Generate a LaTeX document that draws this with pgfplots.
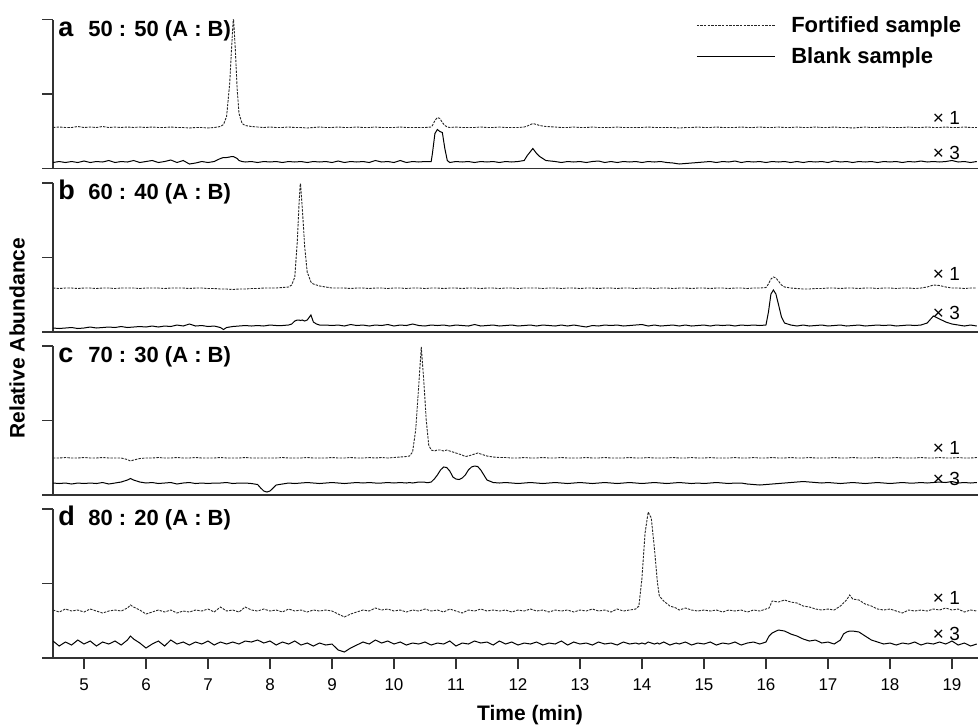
\documentclass[border=0pt]{standalone}
\usepackage{fontspec}
\setmainfont{Liberation Sans}
\usepackage{pgfplots}
\usepackage{pgfplotstable}
\pgfplotsset{compat=1.18}

% heights in px above the panel bottom (panel = 149 px tall)
\pgfplotstableread{
t f b
4.5 41 6
4.6 41.5 7
4.7 41 6
4.8 41 7
4.9 42 6
5.0 41 7.5
5.1 41.5 6
5.2 41 7
5.3 42 6.5
5.4 41 8
5.5 41.5 6
5.6 41 7
5.7 41.5 6.5
5.8 41 8
5.9 41.5 6
6.0 41 7
6.1 41.5 8
6.2 41 6
6.3 41 7
6.4 41.5 8.5
6.5 41 6
6.6 41 8
6.7 40.5 4.5
6.8 41 5.5
6.9 41 7
7.0 40.5 6
7.1 41 7
7.2 42 10
7.25 44 11
7.3 52 11
7.35 85 11.5
7.38 120 12
7.41 152 12
7.44 120 11
7.47 80 10
7.5 55 8
7.55 45 7
7.6 43 6.5
7.7 42 7
7.8 41.5 6
7.9 41 7
8.0 41.5 6.5
8.1 41 7
8.2 41 6
8.3 41.5 7
8.4 41 6.5
8.5 41 7
8.6 40.5 6
8.7 41 7
8.8 41.5 6.5
8.9 41 7
9.0 41 6
9.1 41.5 7.5
9.2 41 6
9.3 41 7
9.4 41.5 6.5
9.5 41 7
9.6 41 6
9.7 41.5 8
9.8 41 6.5
9.9 41 7
10.0 41 6
10.1 41.5 8
10.2 41 6
10.3 41 7
10.4 41 6.5
10.5 41 7
10.6 41.5 7
10.62 43 15
10.66 48 35
10.7 51 39
10.74 50 37
10.78 46 36
10.82 43 20
10.86 41.5 8
10.9 41 6
11.0 41.5 7
11.1 41 6.5
11.2 41 7
11.3 41 6
11.4 41.5 7
11.5 41 6.5
11.6 41 7
11.7 41.5 6
11.8 41 7
11.9 41 6.5
12.0 41 7
12.1 41.5 8
12.15 42.5 13
12.24 45 20
12.3 44 15
12.35 43 12
12.45 42 8
12.6 41.5 7
12.7 41 6
12.8 41 7
12.9 41.5 6.5
13.0 41 7
13.1 41 6
13.2 41.5 7
13.3 41 7.5
13.4 41 6
13.5 41 7
13.6 41.5 6
13.7 41 7
13.8 41 6.5
13.9 41 7
14.0 41 6
14.1 41.5 7
14.2 41 6.5
14.3 41 7
14.4 41 6
14.5 41 5.5
14.6 40.5 4.5
14.7 41 5
14.8 41 5.5
14.9 41.5 6
15.0 41 6.5
15.1 41 7
15.2 41.5 6
15.3 41 7
15.4 41 6.5
15.5 41 7.5
15.6 41.5 6
15.7 41 7
15.8 41 6.5
15.9 41.5 7
16.0 41 6
16.1 41 7
16.2 41.5 6.5
16.3 41 7
16.4 41 6
16.5 41.5 7
16.6 41 6
16.7 41 7
16.8 41.5 6.5
16.9 41 7
17.0 41 6
17.1 41.5 7.5
17.2 41 6.5
17.3 41 7
17.4 40.5 6
17.5 41 7
17.6 41.5 6.5
17.7 41 7
17.8 41 6
17.9 41.5 7
18.0 41 6.5
18.1 41 7
18.2 41 6
18.3 41.5 7
18.4 41 6.5
18.5 41 7.5
18.6 41.5 6.5
18.7 41 7
18.8 41 6.5
18.9 41.5 7
19.0 41 8
19.1 41 6.5
19.2 41.5 7
19.3 41 6
19.4 41 7
}\panela

\pgfplotstableread{
t f b
4.5 44 4
4.6 43.5 3.5
4.7 44 4
4.8 44 4.5
4.9 43.5 3.5
5.0 44 4
5.1 44 5
5.2 43.5 4
5.3 44 4.5
5.4 44 5
5.5 43.5 4.5
5.6 44 5.5
5.7 44 4.5
5.8 44 5
5.9 43.5 5.5
6.0 44 5
6.1 44 6
6.2 44 5
6.3 43.5 6
6.4 44 5.5
6.5 44 7
6.6 44 6
6.7 43.5 8
6.8 44 6
6.9 44 6.5
7.0 43.5 5.5
7.1 43.5 6
7.2 43 4.5
7.25 43 2.5
7.3 43 4.5
7.4 42.5 5.5
7.5 43 6
7.6 43 6.5
7.7 43.5 6
7.8 43.5 6.5
7.9 44 6
8.0 44 7
8.1 44 6.5
8.2 44.5 6.5
8.3 45 7
8.35 47 8
8.4 55 11
8.44 90 12
8.47 130 12
8.49 150 11.5
8.52 125 12
8.56 85 11
8.6 60 12
8.66 50 17
8.7 48 10
8.75 47 8
8.8 46 7
8.9 45 7
9.0 44 6.5
9.1 44 7
9.2 44 6
9.3 43.5 7.5
9.4 44 6.5
9.5 44 7
9.6 43.5 6
9.7 44 7
9.8 44 6.5
9.9 43.5 7.5
10.0 44 6
10.1 44 7
10.2 43.5 6.5
10.3 44 8
10.4 44 6.5
10.5 43.5 6
10.6 44 7
10.7 44 6.5
10.8 43.5 7
10.9 44 6
11.0 44 7
11.1 43.5 6.5
11.2 44 6
11.3 44 7.5
11.4 43.5 6
11.5 44 6.5
11.6 44 7
11.7 43.5 6
11.8 44 6.5
11.9 44 7
12.0 43.5 6
12.1 44 6.5
12.2 44 7
12.3 44 6
12.4 43.5 7
12.5 44 6.5
12.6 44 6
12.7 43.5 7
12.8 44 6
12.9 44 7
13.0 43.5 6
13.1 44 5
13.2 44 6.5
13.3 43.5 6
13.4 44 7
13.5 44 6.5
13.6 43.5 7
13.7 44 6
13.8 44 6.5
13.9 43.5 7
14.0 44 7.5
14.1 44 6
14.2 43.5 7
14.3 44 6
14.4 44 6.5
14.5 43.5 7
14.6 44 6
14.7 44 7
14.8 43.5 6
14.9 44 6.5
15.0 44 7
15.1 43.5 6
15.2 44 7
15.3 44 6.5
15.4 43.5 7
15.5 44 6
15.6 44 7
15.7 43.5 6.5
15.8 44 7
15.9 44 6.5
16.0 44.5 7
16.04 48 20
16.08 53 38
16.12 55 42
16.16 54 38
16.2 51 28
16.25 47 15
16.3 45 9
16.4 44 7
16.5 43.5 6
16.6 43 7
16.7 43 6
16.8 43.5 6.5
16.9 43.5 7
17.0 44 6
17.1 44 6.5
17.2 43.5 7
17.3 44 6
17.4 44 6.5
17.5 43.5 7
17.6 44 6
17.7 44 6.5
17.8 43.5 7
17.9 44 6.5
18.0 44 7
18.1 43.5 6
18.2 44 6.5
18.3 44 7
18.4 43.5 6.5
18.5 44 7
18.6 45 9
18.7 47 16
18.8 46.5 13
18.9 45 10
19.0 44 8
19.1 44 7
19.2 43.5 6
19.3 44 7
19.4 44 6
}\panelb

\pgfplotstableread{
t f b
4.5 37 12
4.6 37 11.5
4.7 37.5 12
4.8 37 11
4.9 37 12
5.0 37.5 11.5
5.1 37 12
5.2 37 11.5
5.3 37.5 12.5
5.4 37 11
5.5 37 12
5.6 37 13
5.7 35.5 15
5.75 34 16.5
5.8 35 15
5.9 36.5 13
6.0 37 12
6.1 37 12.5
6.2 37.5 11.5
6.3 37 12
6.4 37 12.5
6.5 37.5 11
6.6 37 12
6.7 37 12.5
6.8 37.5 11.5
6.9 37 12
7.0 37 11.5
7.1 37 12
7.2 37.5 12
7.3 37 12.5
7.4 37 11.5
7.5 37 12
7.6 37.5 12
7.7 37 11.5
7.8 37 10.5
7.85 37 7
7.9 37 4
7.95 37 3
8.0 37 4
8.05 37 7
8.1 37 10
8.2 37.5 11
8.3 37 12
8.4 37 11.5
8.5 37 12
8.6 37.5 12.5
8.7 37 12
8.8 37 11.5
8.9 37 12
9.0 37.5 12.5
9.1 37 12
9.2 37 11.5
9.3 37.5 12
9.4 37 12.5
9.5 37 12
9.6 37.5 12.5
9.7 37 12
9.8 37.5 12
9.9 37 12.5
10.0 37.5 12
10.1 38 12.5
10.2 38.5 12
10.25 39 12.5
10.3 43 12
10.35 65 12.5
10.4 110 13
10.44 148 13
10.48 115 13
10.52 75 12.5
10.56 50 12.5
10.6 45 13
10.65 44 16
10.7 45 20
10.75 45 25
10.8 44 28
10.85 45 27.5
10.9 44 24
10.95 43 18
11.0 42 16
11.05 41 15.5
11.1 40 17
11.15 38.5 20
11.2 39 25
11.25 40 28
11.3 41 29
11.35 42 28.5
11.4 41 25
11.45 40 20
11.5 39 15
11.6 38 12.5
11.7 37.5 12
11.8 37.5 12.5
11.9 37 12
12.0 37 11.5
12.1 37.5 12
12.2 37 12.5
12.3 37 12
12.4 37.5 11.5
12.5 37 12
12.6 37 12.5
12.7 37.5 12
12.8 37 11.5
12.9 37 12
13.0 37 12.5
13.1 37.5 12
13.2 37 11.5
13.3 37 12
13.4 37.5 12.5
13.5 37 12
13.6 37 11.5
13.7 37 12
13.8 37.5 12.5
13.9 37 12
14.0 37 11.5
14.1 37.5 12
14.2 37 12.5
14.3 37 12
14.4 37 11.5
14.5 37.5 12
14.6 37 12.5
14.7 37 12
14.8 37.5 11.5
14.9 37 12
15.0 37 11.5
15.1 37.5 12
15.2 37 12.5
15.3 37 12
15.4 37 11.5
15.5 37.5 12
15.6 37 12
15.7 37 11
15.8 37.5 10.5
15.9 37 10
16.0 37 10.5
16.1 37.5 11
16.2 37 11.5
16.3 37 12
16.4 37.5 12.5
16.5 37 13
16.6 37 13.5
16.7 37.5 13
16.8 37 12.5
16.9 37 12
17.0 37 12.5
17.1 37.5 12
17.2 37 11.5
17.3 37 12
17.4 37.5 12.5
17.5 37 12
17.6 37 11.5
17.7 37 12
17.8 37.5 12.5
17.9 37 12
18.0 37 11.5
18.1 37.5 12
18.2 37 12.5
18.3 37 12
18.4 37 12
18.5 37.5 12.5
18.6 37 12
18.7 37 12.5
18.8 37.5 13
18.9 37 12.5
19.0 37 13.5
19.1 37.5 12
19.2 37 12.5
19.3 37 12
19.4 37.5 12.5
}\panelc

\pgfplotstableread{
t f b
4.5 48 17
4.6 46 12
4.7 49 16
4.8 47 13
4.9 48 18
5.0 46 14
5.1 49 17
5.2 47 12
5.3 45 16
5.4 47 14
5.5 48 17
5.6 47 13
5.7 50 18
5.75 53 22
5.8 51 19
5.9 48 15
6.0 44 10
6.1 46 14
6.2 48 17
6.3 46 12
6.4 48 18
6.5 45 14
6.6 47 16
6.7 46 13
6.8 48 16
6.9 47 14
7.0 49 17
7.1 46 13
7.2 51 16
7.3 47 14
7.4 48 16
7.5 46 14
7.6 51 17
7.7 48 16
7.8 47 18
7.9 49 15
8.0 47 17
8.1 48 13
8.2 46 16
8.3 49 14
8.4 47 17
8.5 48 13
8.6 46 15
8.7 48 12
8.8 47 15
8.9 48 13
9.0 47 14
9.1 44 8
9.2 41 6
9.3 44 10
9.4 46 13
9.5 48 16
9.6 47 14
9.7 50 18
9.8 48 15
9.9 49 17
10.0 47 14
10.1 48 16
10.2 46 13
10.3 48 15
10.4 47 14
10.5 49 16
10.6 47 13
10.7 48 15
10.8 46 14
10.9 49 17
11.0 47 12
11.1 45 15
11.2 48 14
11.3 47 17
11.4 49 15
11.5 47 16
11.6 48 13
11.7 47 17
11.8 48 14
11.9 46 16
12.0 48 13
12.1 47 15
12.2 49 14
12.3 47 16
12.4 48 13
12.5 46 15
12.6 48 14
12.7 47 17
12.8 48 13
12.9 46 16
13.0 48 14
13.1 47 15
13.2 49 13
13.3 47 16
13.4 48 14
13.5 46 15
13.6 49 13
13.7 47 16
13.8 48 14
13.9 49 15
13.95 52 14
14.0 80 15
14.05 125 14
14.1 146 16
14.15 140 15
14.2 110 14
14.25 75 15
14.28 62 14
14.35 57 16
14.45 52 13
14.55 50 15
14.6 48 14
14.7 50 16
14.8 48 13
14.9 47 15
15.0 48 14
15.1 47 16
15.2 48 13
15.3 46 15
15.4 48 14
15.5 47 16
15.6 48 13
15.7 46 15
15.8 48 16
15.9 47 14
16.0 49 16
16.05 50 22
16.1 57 25
16.2 56 28
16.3 58 27
16.4 56 24
16.5 55 22
16.6 52 19
16.7 51 17
16.8 49 18
16.9 48 15
17.0 49 16
17.1 48 14
17.2 52 18
17.25 55 24
17.3 58 26
17.35 63 27
17.4 59 27
17.5 58 26
17.6 54 22
17.7 52 18
17.8 49 16
17.9 48 14
18.0 49 15
18.1 47 13
18.2 45 15
18.3 48 14
18.4 47 16
18.5 48 13
18.6 47 15
18.7 49 14
18.8 48 16
18.9 50 14
19.0 48 17
19.1 49 13
19.2 46 15
19.3 48 12
19.4 47 14
}\paneld

\pgfplotsset{
  chrom/.style={
    scale only axis, width=462.5pt, height=74.5pt,
    xmin=4.5, xmax=19.42, ymin=0, ymax=149,
    axis x line*=bottom, axis y line*=left,
    ytick={0,74.5,149}, yticklabels={},
    xtick=\empty,
    tick align=outside, major tick length=5.5pt,
    axis line style={black!80, line width=0.7pt},
    tick style={black!80, line width=0.7pt},
    ticklabel style={font=\fontsize{8.5}{10}\selectfont},
    xticklabel style={yshift=-1.5pt},
    /pgf/number format/assume math mode=true,
    clip mode=individual,
    anchor=south west,
  },
  fort/.style={black!85, line width=0.45pt, dash pattern=on 1.2pt off 0.6pt, mark=none},
  blank/.style={black, line width=0.5pt, mark=none},
}
\newcommand{\paneltitle}[2]{%
  \node[anchor=base west, inner sep=0pt, font=\bfseries\fontsize{13.5}{15}\selectfont] at (rel axis cs:0.0054,0.889) {#1};
  \node[anchor=base west, inner sep=0pt, font=\bfseries\fontsize{11}{13}\selectfont] at (rel axis cs:0.0378,0.889) {#2};}
\newcommand{\scalelabels}[2]{%
  \node[font=\fontsize{9.5}{11}\selectfont, inner sep=0pt] at (axis cs:18.91,#1) {× 1};
  \node[font=\fontsize{9.5}{11}\selectfont, inner sep=0pt] at (axis cs:18.91,#2) {× 3};}

\begin{document}
\begin{tikzpicture}
\useasboundingbox (0,0) rectangle (489pt,-362.5pt);

\begin{axis}[chrom, at={(26.5pt,-84.25pt)},
  legend style={draw=none, fill=none, inner sep=0pt, at={(rel axis cs:0.695,1.05)}, anchor=north west,
    font=\bfseries\fontsize{11}{13}\selectfont, row sep=2pt,
    /tikz/every odd column/.append style={column sep=6pt}},
  legend cell align=left,
  legend image code/.code={\draw[#1] (0pt,0pt) -- (39pt,0pt);}]
\addplot[fort] table[x=t,y=f]{\panela};
\addlegendentry{Fortified sample}
\addplot[blank] table[x=t,y=b]{\panela};
\addlegendentry{Blank sample}
\paneltitle{a}{50 : 50 (A : B)}
\scalelabels{50.5}{15.5}
\end{axis}

\begin{axis}[chrom, at={(26.5pt,-166pt)}]
\addplot[fort] table[x=t,y=f]{\panelb};
\addplot[blank] table[x=t,y=b]{\panelb};
\paneltitle{b}{60 : 40 (A : B)}
\scalelabels{58}{19}
\end{axis}

\begin{axis}[chrom, at={(26.5pt,-247.5pt)}]
\addplot[fort] table[x=t,y=f]{\panelc};
\addplot[blank] table[x=t,y=b]{\panelc};
\paneltitle{c}{70 : 30 (A : B)}
\scalelabels{47}{16}
\end{axis}

\begin{axis}[chrom, at={(26.5pt,-329pt)}, xtick={5,...,19}]
\addplot[fort] table[x=t,y=f]{\paneld};
\addplot[blank] table[x=t,y=b]{\paneld};
\paneltitle{d}{80 : 20 (A : B)}
\scalelabels{60}{24}
\end{axis}

\node[rotate=90, font=\bfseries\fontsize{10.5}{12}\selectfont] at (8.5pt,-169pt) {Relative Abundance};
\node[anchor=base, font=\bfseries\fontsize{10.5}{12}\selectfont] at (265pt,-360pt) {Time (min)};
\end{tikzpicture}
\end{document}
